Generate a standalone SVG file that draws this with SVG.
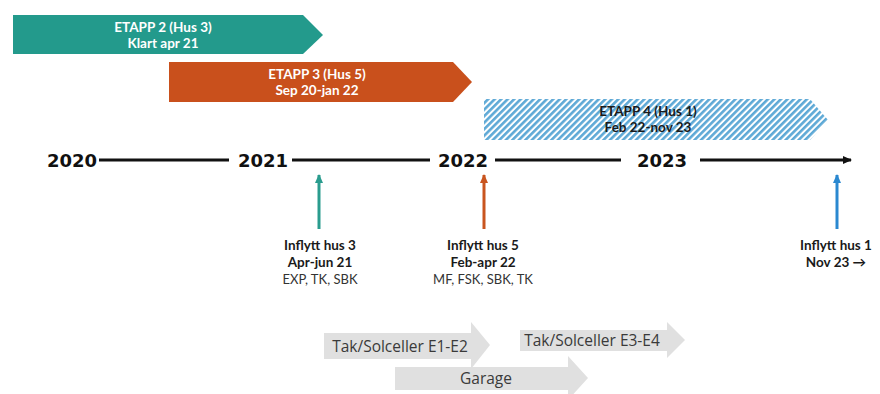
<svg xmlns="http://www.w3.org/2000/svg" width="880" height="394" viewBox="0 0 880 394">
<defs>
<pattern id="hatch" width="4.6" height="4.6" patternUnits="userSpaceOnUse" patternTransform="rotate(45)">
<rect width="4.6" height="4.6" fill="#ffffff"/>
<rect width="2.6" height="4.6" fill="#5ea9d6"/>
</pattern>
<marker id="ahBlack" markerWidth="10" markerHeight="10" refX="8" refY="5" orient="auto" markerUnits="userSpaceOnUse">
<path d="M0,1 L9,5 L0,9 Z" fill="#111"/>
</marker>
<marker id="ahTeal" markerWidth="10" markerHeight="10" refX="8" refY="5" orient="auto" markerUnits="userSpaceOnUse">
<path d="M0,1 L9,5 L0,9 Z" fill="#2a9c8e"/>
</marker>
<marker id="ahOrange" markerWidth="10" markerHeight="10" refX="8" refY="5" orient="auto" markerUnits="userSpaceOnUse">
<path d="M0,1 L9,5 L0,9 Z" fill="#c9551f"/>
</marker>
<marker id="ahBlue" markerWidth="10" markerHeight="10" refX="8" refY="5" orient="auto" markerUnits="userSpaceOnUse">
<path d="M0,1 L9,5 L0,9 Z" fill="#2a88d0"/>
</marker>
</defs>
<style>
.banner{font-family:"Lato","Liberation Sans",sans-serif;font-weight:bold;font-size:13.5px;text-anchor:middle}
.year{font-family:"DejaVu Sans",sans-serif;font-weight:bold;font-size:18px;fill:#111;text-anchor:middle}
.lbl{font-family:"Lato","Liberation Sans",sans-serif;font-size:13px;fill:#333;text-anchor:middle}
.b{font-weight:bold;font-size:13.5px;fill:#1a1a1a}
.gray{font-family:"Open Sans","Liberation Sans",sans-serif;font-size:15.5px;fill:#3a3a3a;text-anchor:middle}
.tl{stroke:#111;stroke-width:3;fill:none}
</style>
<rect width="880" height="394" fill="#ffffff"/>

<g id="etapp2">
<path d="M13,15 L303,15 L323,35 L303,54 L13,54 Z" fill="#239a8c"/>
<text class="banner" x="163" y="32" fill="#ffffff">ETAPP 2 (Hus 3)</text>
<text class="banner" x="163" y="48" fill="#ffffff">Klart apr 21</text>
</g>

<g id="etapp3">
<path d="M169,62 L453,62 L472,82 L453,102 L169,102 Z" fill="#c9501c"/>
<text class="banner" x="317" y="79" fill="#ffffff">ETAPP 3 (Hus 5)</text>
<text class="banner" x="317" y="95" fill="#ffffff">Sep 20-jan 22</text>
</g>

<g id="etapp4">
<path d="M484,99 L810,99 L828,120 L810,140 L484,140 Z" fill="url(#hatch)"/>
<text class="banner" x="648" y="116" fill="#1a1a1a">ETAPP 4 (Hus 1)</text>
<text class="banner" x="648" y="132" fill="#1a1a1a">Feb 22-nov 23</text>
</g>

<g id="timeline">
<text class="year" x="72" y="167">2020</text>
<text class="year" x="263" y="167">2021</text>
<text class="year" x="463" y="167">2022</text>
<text class="year" x="662" y="167">2023</text>
</g>

<g id="connectors">
<line class="tl" x1="99" y1="160" x2="229" y2="160"/>
<line class="tl" x1="292" y1="160" x2="430" y2="160"/>
<line class="tl" x1="495" y1="160" x2="621" y2="160"/>
<line class="tl" x1="700" y1="160" x2="851" y2="160" marker-end="url(#ahBlack)"/>
<line x1="319" y1="229" x2="319" y2="175" stroke="#2a9c8e" stroke-width="3" marker-end="url(#ahTeal)"/>
<line x1="484" y1="229" x2="484" y2="175" stroke="#c9551f" stroke-width="3" marker-end="url(#ahOrange)"/>
<line x1="837" y1="229" x2="837" y2="175" stroke="#2a88d0" stroke-width="3" marker-end="url(#ahBlue)"/>
</g>

<g id="inflytt3">
<text class="lbl b" x="320" y="250">Inflytt hus 3</text>
<text class="lbl b" x="320" y="267">Apr-jun 21</text>
<text class="lbl" x="320" y="284">EXP, TK, SBK</text>
</g>

<g id="inflytt5">
<text class="lbl b" x="483" y="250">Inflytt hus 5</text>
<text class="lbl b" x="483" y="267">Feb-apr 22</text>
<text class="lbl" x="483" y="284">MF, FSK, SBK, TK</text>
</g>

<g id="inflytt1">
<text class="lbl b" x="836" y="250">Inflytt hus 1</text>
<text class="lbl b" x="836" y="267">Nov 23 →</text>
</g>

<g id="tak12">
<path d="M324,333 L471,333 L471,322 L490,345 L471,369 L471,359 L324,359 Z" fill="#e0e0e0"/>
<text class="gray" x="400" y="352">Tak/Solceller E1-E2</text>
</g>

<g id="tak34">
<path d="M520,330 L667,330 L667,322 L685,340 L667,358 L667,351 L520,351 Z" fill="#e0e0e0"/>
<text class="gray" x="592" y="346">Tak/Solceller E3-E4</text>
</g>

<g id="garage">
<path d="M395,367 L568,367 L568,356 L588,378 L568,400 L568,390 L395,390 Z" fill="#e0e0e0"/>
<text class="gray" x="486" y="384">Garage</text>
</g>
</svg>
